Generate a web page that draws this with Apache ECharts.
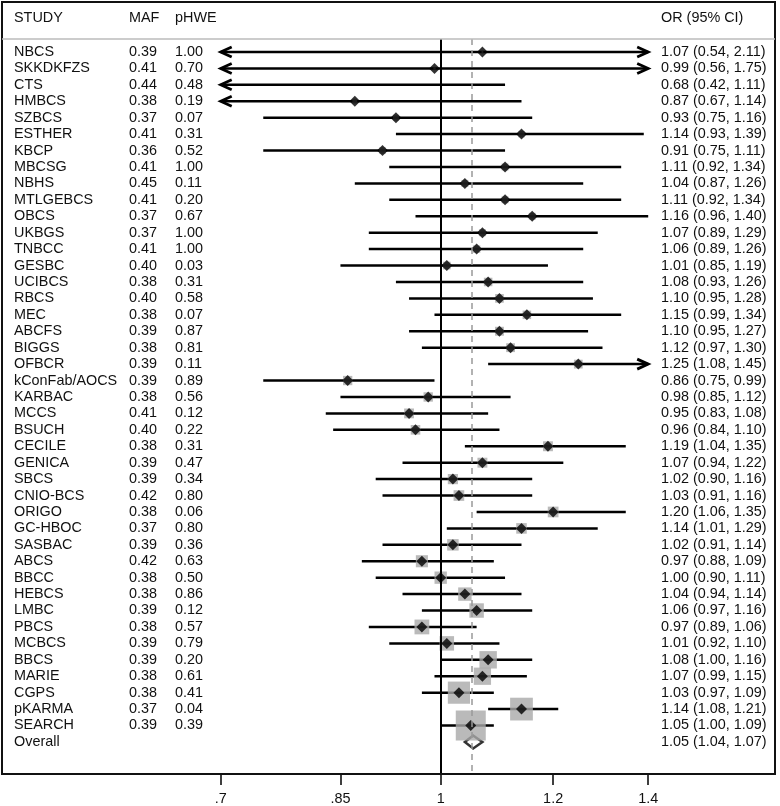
<!DOCTYPE html>
<html><head><meta charset="utf-8">
<script src="https://cdn.jsdelivr.net/npm/echarts@6/dist/echarts.min.js"></script>
<style>html,body{margin:0;padding:0;background:#fff}#c{width:780px;height:806px}</style>
</head><body><div id="c"></div>
<script>
// ---------- data ----------
const studies = ['NBCS','SKKDKFZS','CTS','HMBCS','SZBCS','ESTHER','KBCP','MBCSG','NBHS','MTLGEBCS','OBCS','UKBGS','TNBCC','GESBC','UCIBCS','RBCS','MEC','ABCFS','BIGGS','OFBCR','kConFab/AOCS','KARBAC','MCCS','BSUCH','CECILE','GENICA','SBCS','CNIO-BCS','ORIGO','GC-HBOC','SASBAC','ABCS','BBCC','HEBCS','LMBC','PBCS','MCBCS','BBCS','MARIE','CGPS','pKARMA','SEARCH'];
const maf = [0.39,0.41,0.44,0.38,0.37,0.41,0.36,0.41,0.45,0.41,0.37,0.37,0.41,0.40,0.38,0.40,0.38,0.39,0.38,0.39,0.39,0.38,0.41,0.40,0.38,0.39,0.39,0.42,0.38,0.37,0.39,0.42,0.38,0.38,0.39,0.38,0.39,0.39,0.38,0.38,0.37,0.39];
const phwe = [1.00,0.70,0.48,0.19,0.07,0.31,0.52,1.00,0.11,0.20,0.67,1.00,1.00,0.03,0.31,0.58,0.07,0.87,0.81,0.11,0.89,0.56,0.12,0.22,0.31,0.47,0.34,0.80,0.06,0.80,0.36,0.63,0.50,0.86,0.12,0.57,0.79,0.20,0.61,0.41,0.04,0.39];
const orVal = [1.07,0.99,0.68,0.87,0.93,1.14,0.91,1.11,1.04,1.11,1.16,1.07,1.06,1.01,1.08,1.10,1.15,1.10,1.12,1.25,0.86,0.98,0.95,0.96,1.19,1.07,1.02,1.03,1.20,1.14,1.02,0.97,1.00,1.04,1.06,0.97,1.01,1.08,1.07,1.03,1.14,1.05];
const ciLow = [0.54,0.56,0.42,0.67,0.75,0.93,0.75,0.92,0.87,0.92,0.96,0.89,0.89,0.85,0.93,0.95,0.99,0.95,0.97,1.08,0.75,0.85,0.83,0.84,1.04,0.94,0.90,0.91,1.06,1.01,0.91,0.88,0.90,0.94,0.97,0.89,0.92,1.00,0.99,0.97,1.08,1.00];
const ciHigh = [2.11,1.75,1.11,1.14,1.16,1.39,1.11,1.34,1.26,1.34,1.40,1.29,1.26,1.19,1.26,1.28,1.34,1.27,1.30,1.45,0.99,1.12,1.08,1.10,1.35,1.22,1.16,1.16,1.35,1.29,1.14,1.09,1.11,1.14,1.16,1.06,1.10,1.16,1.15,1.09,1.21,1.09];
const overallLabel = 'Overall';
const overallEst = [1.054, 1.04, 1.07]; // estimate, low, high
const tickValues = [0.7, 0.85, 1, 1.2, 1.4];
const tickLabels = ['.7', '.85', '1', '1.2', '1.4'];
const xRange = [0.7, 1.4];
const headers = ['STUDY', 'MAF', 'pHWE', 'OR (95% CI)'];

// ---------- layout / style ----------
const FONT_FAMILY = '"Liberation Sans", Arial, sans-serif';
const FONT = '14.4px ' + FONT_FAMILY;
const COL_X = [14, 129, 175, 661];
const BOX_SCALE = 2.586;
const LN_MIN = Math.log(xRange[0]), LN_MAX = Math.log(xRange[1]);
const N = studies.length;
const fmt = v => v.toFixed(2);

const inRange = i => orVal[i] >= xRange[0] && orVal[i] <= xRange[1];
const pointIdx = studies.map((s, i) => i).filter(inRange);

const boxData = pointIdx.map(i => [Math.log(orVal[i]), i, Math.log(ciLow[i]), Math.log(ciHigh[i])]);
const dotData = pointIdx.map(i => [Math.log(orVal[i]), i]);
const ciData = studies.map((s, i) => [Math.log(ciLow[i]), i, Math.log(ciHigh[i])]);
const textRows = studies.map((s, i) => [s, fmt(maf[i]), fmt(phwe[i]), `${fmt(orVal[i])} (${fmt(ciLow[i])}, ${fmt(ciHigh[i])})`]);
textRows.push([overallLabel, '', '', `${fmt(overallEst[0])} (${fmt(overallEst[1])}, ${fmt(overallEst[2])})`]);

const chart = echarts.init(document.getElementById('c'), null, {renderer: 'canvas'});
const option = {
  animation: false,
  backgroundColor: '#fff',
  grid: {left: 220.7, right: 131.8, top: 39, bottom: 32},
  xAxis: {
    type: 'value', min: LN_MIN, max: LN_MAX, position: 'bottom',
    axisLine: {show: false, onZero: false},
    splitLine: {show: false},
    axisTick: {show: true, length: 12, lineStyle: {color: '#000', width: 1.5}, customValues: tickValues.map(Math.log)},
    axisLabel: {
      customValues: tickValues.map(Math.log), margin: 19,
      fontSize: 14.4, color: '#111', fontFamily: FONT_FAMILY,
      formatter: v => {
        let best = 0;
        tickValues.forEach((t, k) => { if (Math.abs(Math.log(t) - v) < Math.abs(Math.log(tickValues[best]) - v)) best = k; });
        return tickLabels[best];
      }
    }
  },
  yAxis: {type: 'value', inverse: true, min: -0.79, max: 43.89, show: false},
  graphic: [
    {type: 'rect', shape: {x: 2, y: 2, width: 773, height: 772}, style: {fill: 'none', stroke: '#111', lineWidth: 2}, z: 10},
    {type: 'line', shape: {x1: 2, y1: 39, x2: 775, y2: 39}, style: {stroke: '#bbb', lineWidth: 1.5}, z: 10},
    ...headers.map((h, k) => ({type: 'text', x: COL_X[k], y: 18, style: {text: h, font: FONT, fill: '#111', align: 'left', verticalAlign: 'middle'}, z: 10}))
  ],
  series: [
    {
      type: 'scatter', name: 'weight', data: boxData, symbol: 'rect',
      encode: {x: 0, y: 1},
      symbolSize: v => BOX_SCALE / (v[3] - v[2]),
      itemStyle: {color: '#a9a9a9'}, silent: true,
      markLine: {
        silent: true, symbol: 'none', label: {show: false},
        data: [
          {xAxis: 0, lineStyle: {color: '#000', width: 2, type: 'solid'}},
          {xAxis: Math.log(overallEst[0]), lineStyle: {color: '#999', width: 1.5, type: [6, 5]}}
        ]
      }
    },
    {
      type: 'custom', name: 'ci', data: ciData, clip: false, encode: {x: [0, 2], y: 1}, silent: true,
      renderItem: (params, api) => {
        const lo = api.value(0), row = api.value(1), hi = api.value(2);
        const p1 = api.coord([Math.max(lo, LN_MIN), row]);
        const p2 = api.coord([Math.min(hi, LN_MAX), row]);
        const ch = [{type: 'line', shape: {x1: p1[0], y1: p1[1], x2: p2[0], y2: p2[1]}, style: {stroke: '#000', lineWidth: 2.5}}];
        if (lo < LN_MIN - 1e-9) ch.push({type: 'polyline', shape: {points: [[p1[0] + 11, p1[1] - 5], [p1[0], p1[1]], [p1[0] + 11, p1[1] + 5]]}, style: {stroke: '#000', lineWidth: 2.8, fill: null}});
        if (hi > LN_MAX + 1e-9) ch.push({type: 'polyline', shape: {points: [[p2[0] - 11, p2[1] - 5], [p2[0], p2[1]], [p2[0] - 11, p2[1] + 5]]}, style: {stroke: '#000', lineWidth: 2.8, fill: null}});
        return {type: 'group', children: ch};
      }
    },
    {
      type: 'scatter', name: 'or', data: dotData, symbol: 'diamond', symbolSize: 11,
      itemStyle: {color: '#000'}, silent: true
    },
    {
      type: 'custom', name: 'overall', clip: false, silent: true,
      data: [[Math.log(overallEst[1]), N, Math.log(overallEst[0]), Math.log(overallEst[2])]],
      encode: {x: [0, 2, 3], y: 1},
      renderItem: (params, api) => {
        const row = api.value(1);
        const a = api.coord([api.value(0), row]), e = api.coord([api.value(2), row]), b = api.coord([api.value(3), row]);
        return {type: 'polygon', shape: {points: [[a[0], a[1]], [e[0], e[1] - 6.5], [b[0], b[1]], [e[0], e[1] + 6.5]]}, style: {fill: '#fff', stroke: '#333', lineWidth: 2.5}};
      }
    },
    {
      type: 'custom', name: 'text', clip: false, silent: true,
      data: textRows.map((r, i) => [LN_MIN, i]),
      encode: {x: 0, y: 1},
      renderItem: (params, api) => {
        const y = api.coord([api.value(0), api.value(1)])[1];
        const r = textRows[params.dataIndex];
        return {type: 'group', children: r.map((t, k) => ({type: 'text', x: COL_X[k], y: y, style: {text: t, font: FONT, fill: '#111', align: 'left', verticalAlign: 'middle'}}))};
      }
    }
  ]
};
chart.setOption(option);
</script>
</body></html>
